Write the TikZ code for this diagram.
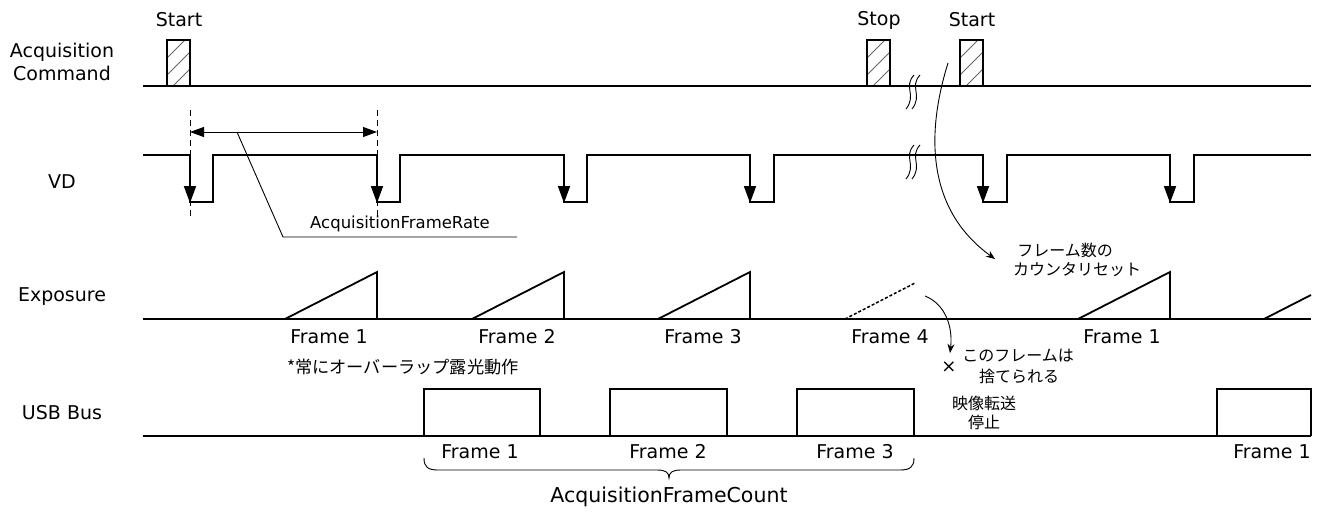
\documentclass[tikz,border=0pt]{standalone}
\usepackage{fontspec}
\setmainfont{DejaVu Sans}
\newfontfamily\jp{Noto Sans CJK JP}
\usetikzlibrary{arrows.meta}
\begin{document}
\begin{tikzpicture}[x=1pt,y=-1pt,
  sig/.style={line width=1.8pt, line join=miter},
  thinline/.style={line width=0.9pt},
  lbl/.style={font=\fontsize{19}{23}\selectfont, inner sep=0pt, align=center},
  jptxt/.style={font=\jp\fontsize{16}{20}\selectfont, inner sep=0pt, align=center},
  hatchline/.style={line width=0.9pt, black!60},
  vdarrow/.style={-{Triangle[length=17pt,width=12pt]}, line width=1.8pt},
  gap/.style={thinline, dash pattern=on 6pt off 4pt},
  dbl/.style={{Triangle[length=14pt,width=10pt]}-{Triangle[length=14pt,width=10pt]}, thinline},
  note/.style={thinline, -{Stealth[length=9pt,width=7pt]}},
  brk/.style={line width=0.9pt}
]
\path[use as bounding box] (0,0) rectangle (1325,512);

% ---------- row labels ----------
\node[lbl] (lacq) at (62,62) {Acquisition\\Command};
\node[lbl] (lvd)  at (62,182) {VD};
\node[lbl] (lexp) at (62,297) {Exposure};
\node[lbl] (lusb) at (62,413) {USB Bus};

% ---------- Acquisition Command ----------
\draw[sig] (143,86) -- (1311,86);
\foreach \bx/\name in {167/s1,867/st,960/s2}{
  \begin{scope}
    \clip (\bx,40) rectangle (\bx+23,86);
    \foreach \k in {0,1,2,3}
      \draw[hatchline] (\bx,58+17*\k) -- ++(23,-23);
  \end{scope}
  \draw[sig] (\bx,40) rectangle (\bx+23,86);
  \coordinate (\name) at (\bx+11.5,40);
}
\node[lbl] (tstart1) at (179,20) {Start};
\node[lbl] (tstop)   at (879,20) {Stop};
\node[lbl] (tstart2) at (972,20) {Start};

% break marks
\foreach \yy in {75,145}{
  \foreach \dx in {0,6}{
    \draw[brk] (914+\dx,\yy) .. controls (903+\dx,\yy+12) and (917+\dx,\yy+20) .. (906+\dx,\yy+34);
  }
}

% ---------- VD ----------
\draw[sig] (143,155) -- (190,155) -- (190,202) -- (213,202) -- (213,155)
  -- (377,155) -- (377,202) -- (400,202) -- (400,155)
  -- (564,155) -- (564,202) -- (587,202) -- (587,155)
  -- (750,155) -- (750,202) -- (774,202) -- (774,155)
  -- (983,155) -- (983,202) -- (1007,202) -- (1007,155)
  -- (1170,155) -- (1170,202) -- (1194,202) -- (1194,155) -- (1311,155);
\foreach \x in {190,377,564,750,983,1170}
  \draw[vdarrow] (\x,165) -- (\x,203);

\draw[gap] (190,110) -- (190,216);
\draw[gap] (377,110) -- (377,216);
\coordinate (fa) at (190,132);
\coordinate (fb) at (377,132);
\draw[dbl] (fa) -- (fb);
\node[font=\fontsize{16.5}{20}\selectfont, inner sep=0pt] (frate) at (400,224) {AcquisitionFrameRate};
\coordinate (lk) at (237,132);
\draw[thinline] (lk) -- (283,237) -- (517,237);

% ---------- Exposure ----------
\draw[sig] (143,319) -- (1311,319);
\foreach \x in {377,564,750,1170}
  \draw[sig] (\x-92,319) -- (\x,272) -- (\x,319);
\draw[line width=1.5pt, dash pattern=on 3pt off 2pt] (845,319) -- (915,283);
\draw[sig] (1264,319) -- (1311,295);

\node[lbl] (ef1) at (329,337) {Frame 1};
\node[lbl] (ef2) at (517,337) {Frame 2};
\node[lbl] (ef3) at (703,337) {Frame 3};
\node[lbl] (ef4) at (890,337) {Frame 4};
\node[lbl] (ef5) at (1122,337) {Frame 1};

\node[jptxt, anchor=west, font=\jp\fontsize{17.2}{20}\selectfont] (ovl) at (287,367) {*常にオーバーラップ露光動作};

% ---------- USB Bus ----------
\draw[sig] (143,436) -- (1311,436);
\foreach \a/\b in {424/540,610/727,797/914,1217/1311}
  \draw[sig] (\a,436) -- (\a,389) -- (\b,389) -- (\b,436);
\node[lbl] (uf1) at (480,452) {Frame 1};
\node[lbl] (uf2) at (668,452) {Frame 2};
\node[lbl] (uf3) at (855,452) {Frame 3};
\node[lbl] (uf4) at (1272,452) {Frame 1};

% brace
\draw[thinline] (424,458) .. controls (424,467) and (428,470) .. (438,470) -- (657,470)
  .. controls (665,470) and (669,472) .. (669,478)
  .. controls (669,472) and (673,470) .. (681,470) -- (900,470)
  .. controls (910,470) and (914,467) .. (914,458);
\node[font=\fontsize{20.5}{24}\selectfont, inner sep=0pt] (fcount) at (669,497) {AcquisitionFrameCount};

% ---------- annotations ----------
\node[jptxt] (reset1) at (1065,250) {フレーム数の};
\node[jptxt] (reset2) at (1077,270) {カウンタリセット};
\coordinate (c1s) at (948,63);
\coordinate (c1e) at (995,259);
\draw[note] (c1s) .. controls (924,140) and (930,212) .. (c1e);

\coordinate (c2s) at (925,296);
\coordinate (c2e) at (950,353);
\draw[note] (c2s) .. controls (945,304) and (953,326) .. (c2e);
\node[font=\fontsize{18}{20}\selectfont, inner sep=0pt] (cross) at (949,367) {×};
\node[jptxt] (disc1) at (1018,356) {このフレームは};
\node[jptxt] (disc2) at (1019,376) {捨てられる};
\node[jptxt] (stop1) at (984,403) {映像転送};
\node[jptxt] (stop2) at (984,422) {停止};
\end{tikzpicture}
\end{document}
